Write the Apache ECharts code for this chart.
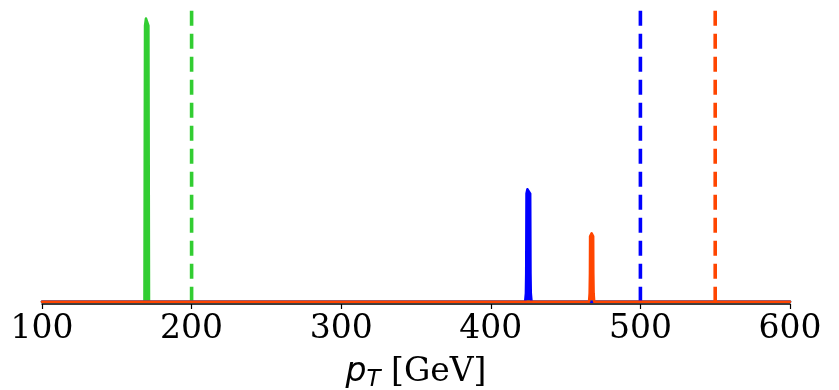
<!DOCTYPE html>
<html>
<head>
<meta charset="utf-8">
<script src="https://cdn.jsdelivr.net/npm/echarts@6/dist/echarts.min.js"></script>
<style>
  html, body { margin: 0; padding: 0; background: #fff; }
  #chart { width: 839px; height: 390px; }
</style>
</head>
<body>
<div id="chart"></div>
<script>
// pT distributions of the three reconstructed objects (arbitrary normalisation)
const greenPeak = [[100, 0], [168.5, 0], [168.7, 0.5], [168.9, 0.97], [169.5, 0.995], [170.0, 1.0], [170.5, 0.995], [171.1, 0.97], [171.3, 0.5], [171.5, 0], [600, 0]];
const bluePeak = [[100, 0], [423.0, 0], [423.5, 0.03], [423.7, 0.1], [423.9, 0.38], [424.5, 0.395], [425.1, 0.4], [425.7, 0.395], [426.3, 0.38], [426.5, 0.1], [426.7, 0.03], [427.2, 0], [600, 0]];
const orangePeak = [[100, 0], [465.7, 0], [466.1, 0.03], [466.3, 0.1], [466.4, 0.23], [466.9, 0.237], [467.4, 0.24], [467.9, 0.237], [468.4, 0.23], [468.5, 0.1], [468.7, 0.03], [469.1, 0], [600, 0]];

// generator-level thresholds (dashed)
const greenCut = 200;
const blueCut = 500;
const orangeCut = 550;

const xTicks = [100, 200, 300, 400, 500, 600];
const yMin = -0.008;
const yMax = 1.05;

const GREEN = '#32cd32';
const BLUE = '#0000ff';
const ORANGE = '#ff4500';

function peakSeries(data, color) {
  return {
    type: 'line',
    data: data,
    showSymbol: false,
    silent: true,
    lineStyle: { color: color, width: 2.6, cap: 'round', join: 'round' },
    areaStyle: { color: color, opacity: 1 }
  };
}

function cutSeries(x, color) {
  return {
    type: 'line',
    data: [[x, 0], [x, yMax]],
    showSymbol: false,
    silent: true,
    lineStyle: { color: color, width: 3.6, type: [15, 8] }
  };
}

const chart = echarts.init(document.getElementById('chart'), null, { renderer: 'canvas' });
chart.setOption({
  animation: false,
  grid: { left: 42, right: 49, top: 3, bottom: 86, containLabel: false, outerBoundsMode: 'none' },
  xAxis: {
    type: 'value',
    min: xTicks[0],
    max: xTicks[xTicks.length - 1],
    interval: 100,
    axisLine: { onZero: false, lineStyle: { color: '#000', width: 1.5 } },
    axisTick: { show: true, length: 5, lineStyle: { color: '#000', width: 1.2 } },
    splitLine: { show: false },
    axisLabel: {
      margin: 9,
      color: '#000',
      fontFamily: 'DejaVu Serif',
      fontSize: 33
    },
    name: '{p|p}{t|T}{n| [GeV]}',
    nameLocation: 'middle',
    nameGap: 48,
    nameTextStyle: {
      rich: {
        p: { fontFamily: 'DejaVu Sans', fontStyle: 'italic', fontSize: 33, color: '#000', lineHeight: 40, verticalAlign: 'middle' },
        t: { fontFamily: 'DejaVu Sans', fontStyle: 'italic', fontSize: 23, color: '#000', lineHeight: 23, verticalAlign: 'bottom' },
        n: { fontFamily: 'DejaVu Serif', fontSize: 33, color: '#000', lineHeight: 40, verticalAlign: 'middle' }
      }
    }
  },
  yAxis: {
    type: 'value',
    min: yMin,
    max: yMax,
    show: false
  },
  series: [
    peakSeries(greenPeak, GREEN),
    cutSeries(greenCut, GREEN),
    peakSeries(bluePeak, BLUE),
    cutSeries(blueCut, BLUE),
    peakSeries(orangePeak, ORANGE),
    cutSeries(orangeCut, ORANGE)
  ]
});
</script>
</body>
</html>
